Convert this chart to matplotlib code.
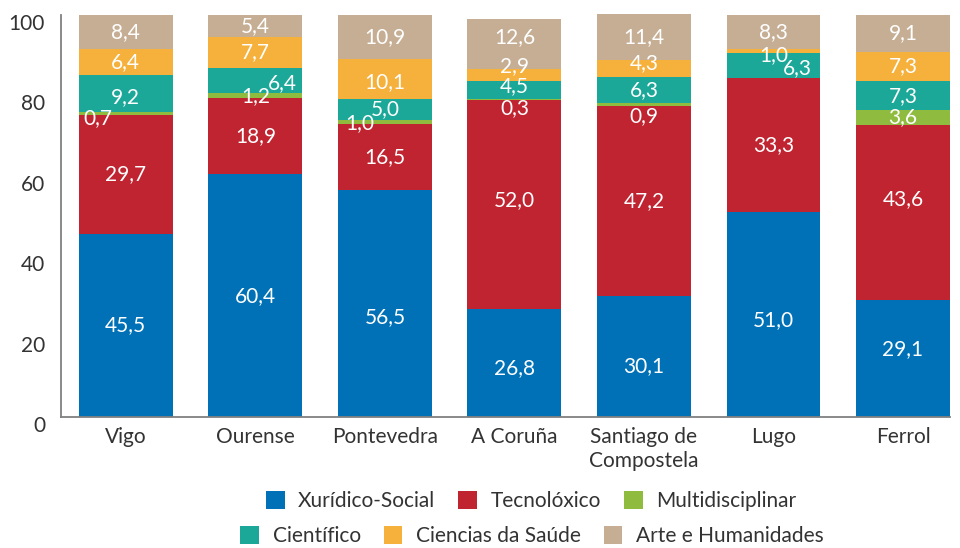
import numpy as np
import matplotlib
matplotlib.use("Agg")
import matplotlib.pyplot as plt
import matplotlib.transforms as mtransforms
from matplotlib.patches import Patch

plt.rcParams['font.family'] = ['Lato', 'DejaVu Sans']

cities = ["Vigo", "Ourense", "Pontevedra", "A Coruña",
          "Santiago de\nCompostela", "Lugo", "Ferrol"]
xuridico = [45.5, 60.4, 56.5, 26.8, 30.1, 51.0, 29.1]
tecnoloxico = [29.7, 18.9, 16.5, 52.0, 47.2, 33.3, 43.6]
multidisciplinar = [0.7, 1.2, 1.0, 0.3, 0.9, 0.0, 3.6]
cientifico = [9.2, 6.4, 5.0, 4.5, 6.3, 6.3, 7.3]
saude = [6.4, 7.7, 10.1, 2.9, 4.3, 1.0, 7.3]
arte = [8.4, 5.4, 10.9, 12.6, 11.4, 8.3, 9.1]

series = [
    ("Xurídico-Social", xuridico, "#0071b6"),
    ("Tecnolóxico", tecnoloxico, "#c02431"),
    ("Multidisciplinar", multidisciplinar, "#8fbc3f"),
    ("Científico", cientifico, "#1ba898"),
    ("Ciencias da Saúde", saude, "#f6b03c"),
    ("Arte e Humanidades", arte, "#c6ae94"),
]

# nudges (px right, px down) for labels that would collide
nudge = {
    (2, 0): (-28, 5), (3, 0): (0, 3.5),
    (3, 1): (27, 2.5),
    (0, 2): (0, 14), (2, 2): (-25, 1.5), (4, 2): (0, 3),
    (0, 3): (0, 5), (1, 3): (0, -5), (2, 3): (0, 8.5),
    (3, 3): (0, -3.5), (4, 3): (0, -9), (5, 3): (0, -7),
    (0, 4): (0, 10), (2, 4): (0, 12), (4, 4): (0, -6),
    (0, 5): (0, 6), (3, 5): (24, 2.5), (4, 5): (0, 4),
    (0, 6): (0, -9.5), (1, 6): (0, -13),
}

fig = plt.figure(figsize=(9.6, 5.48), dpi=100)
ax = fig.add_axes([61 / 960, 1 - 417 / 548, (950 - 61) / 960, 402 / 548])

x = np.arange(len(cities))
width = 0.725
bottom = np.zeros(len(cities))
for si, (name, vals, color) in enumerate(series):
    vals = np.array(vals)
    ax.bar(x, vals, width, bottom=bottom, color=color, label=name,
           clip_on=False, zorder=2)
    for ci, v in enumerate(vals):
        if v <= 0:
            continue
        dx, dy = nudge.get((si, ci), (0, 0))
        ax.annotate(f"{v:.1f}".replace(".", ","),
                    (x[ci], bottom[ci] + v / 2),
                    xytext=(dx * 0.72, -dy * 0.72), textcoords="offset points",
                    ha="center", va="center", color="white", fontsize=15,
                    zorder=3, annotation_clip=False)
    bottom += vals

ax.set_xlim(-0.5, len(cities) - 1 + width / 2)
ax.set_ylim(0, 100)
ax.set_yticks([0, 20, 40, 60, 80, 100])
ax.set_xticks(x)
ax.set_xticklabels(cities, fontsize=15, color="#333333", linespacing=1.25)
ax.tick_params(axis="both", length=0, labelsize=15, labelcolor="#333333")
ax.tick_params(axis="y", pad=11.5)
ax.tick_params(axis="x", pad=7)

shift = mtransforms.ScaledTranslation(0, -5 / 72, fig.dpi_scale_trans)
for lbl in ax.get_yticklabels():
    lbl.set_transform(lbl.get_transform() + shift)

for side in ("top", "right"):
    ax.spines[side].set_visible(False)
for side in ("left", "bottom"):
    ax.spines[side].set_color("#808080")
    ax.spines[side].set_linewidth(1.3)

handles = [Patch(facecolor=c, edgecolor="none", label=n) for n, _, c in series]
legend_kw = dict(loc="center", ncol=3, frameon=False, fontsize=15,
                 handlelength=0.9, handleheight=0.95, handletextpad=0.65,
                 columnspacing=1.1, labelcolor="#333333",
                 bbox_transform=fig.transFigure)
leg1 = fig.legend(handles=handles[:3], bbox_to_anchor=(531 / 960, 1 - 501 / 548),
                  **legend_kw)
leg2 = fig.legend(handles=handles[3:], bbox_to_anchor=(532 / 960, 1 - 536 / 548),
                  **legend_kw)

fig.savefig("out.png", dpi=100)
